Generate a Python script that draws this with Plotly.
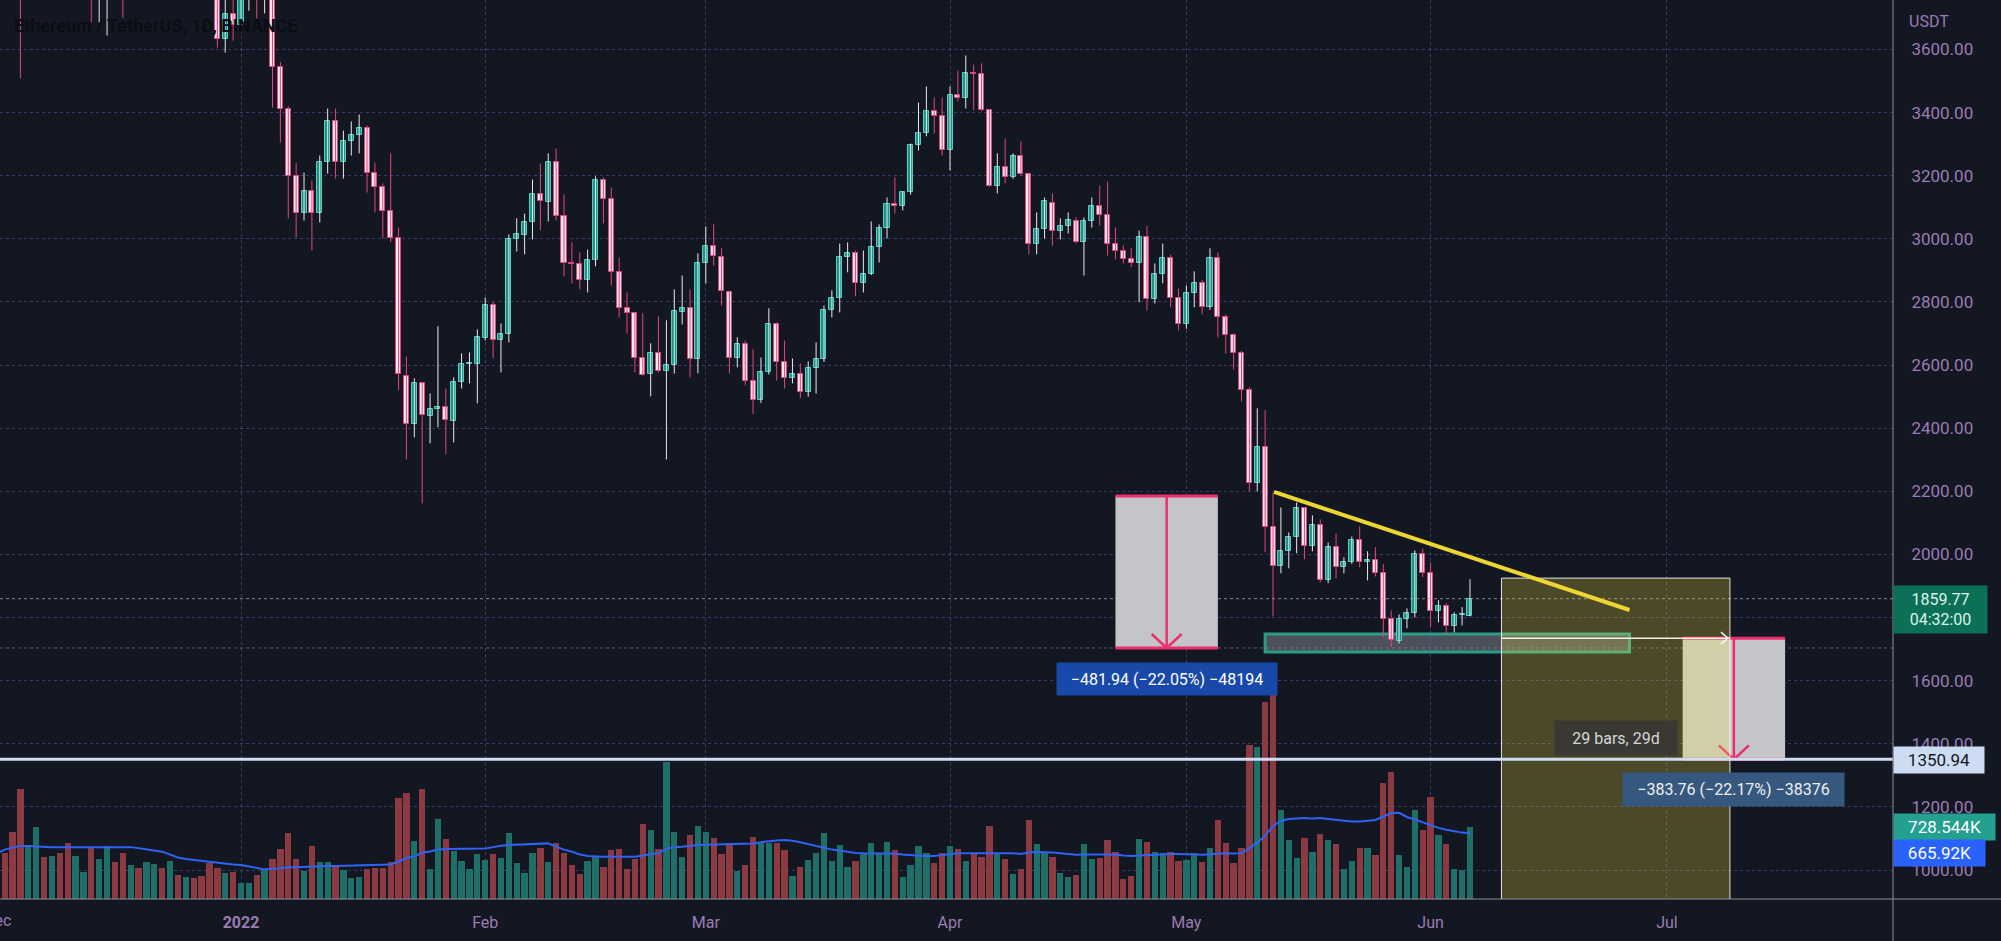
import pandas as pd
import plotly.graph_objects as go

# ---- data: ETH/USDT daily, Binance ----
dates = pd.date_range("2021-12-01", "2022-06-06", freq="D")

open_ = [
    4631, 4586, 4512, 4220, 4119, 4198, 4346, 4308, 4432, 4110, 3890, 4080, 4132, 3780, 3860, 4020,
    3960, 3880, 3960, 3920, 3940, 4020, 3980, 4110, 4045, 4095, 4065, 4035, 3790, 3632, 3711,
    3679, 3770, 3830, 3762, 3790, 3543, 3410, 3200, 3083, 3153, 3083, 3242, 3372, 3242, 3309, 3328,
    3350, 3210, 3163, 3087, 3004, 2567, 2412, 2542, 2438, 2460, 2466, 2422, 2545, 2602, 2602,
    2685, 2789, 2681, 2697, 2998, 3011, 3052, 3141, 3116, 3245, 3071, 2925, 2919, 2871, 2932, 3185,
    3125, 2894, 2780, 2764, 2624, 2571, 2637, 2580, 2599, 2767, 2780, 2618,
    2922, 2976, 2944, 2833, 2624, 2666, 2551, 2491, 2577, 2729, 2609, 2558, 2571, 2514, 2590, 2618,
    2776, 2814, 2941, 2954, 2859, 2890, 2973, 3036, 3112, 3103, 3147, 3296, 3334, 3404, 3388,
    3283, 3457, 3445, 3524, 3521, 3407, 3169, 3229, 3195, 3261, 3204, 2985, 3030, 3115, 3024, 3042,
    3058, 2989, 3058, 3103, 3077, 2985, 2963, 2935, 2922, 3007, 2811, 2890, 2938, 2814,
    2729, 2827, 2859, 2783, 2938, 2751, 2694, 2637, 2520, 2228, 2339, 2086, 1962, 2010, 2054, 2146,
    2026, 2092, 1918, 2023, 1959, 1975, 2045, 1975, 1981, 1940, 1795, 1725, 1795, 1814, 2000,
    1940, 1820, 1836, 1772, 1807, 1806,
]
high = [
    4778, 4635, 4650, 4237, 4235, 4350, 4430, 4440, 4480, 4230, 4100, 4170, 4140, 3880, 4100, 4100,
    3990, 3990, 4040, 3970, 4060, 4070, 4130, 4150, 4125, 4110, 4125, 4045, 3830, 3770, 3810,
    3780, 3860, 3850, 3880, 3845, 3560, 3420, 3240, 3210, 3185, 3264, 3413, 3413, 3343, 3372, 3394,
    3359, 3242, 3176, 3271, 3036, 2627, 2558, 2545, 2510, 2723, 2526, 2561, 2637, 2640, 2713,
    2814, 2800, 2732, 3014, 3065, 3080, 3188, 3239, 3271, 3286, 3141, 2989, 2957, 2966, 3198, 3195,
    3163, 2941, 2830, 2768, 2764, 2669, 2754, 2742, 2840, 2884, 2840, 2954,
    3039, 3046, 2970, 2836, 2688, 2678, 2650, 2624, 2780, 2735, 2678, 2621, 2605, 2612, 2672, 2789,
    2837, 2985, 2989, 2963, 2963, 3055, 3046, 3131, 3195, 3150, 3302, 3432, 3483, 3448, 3448,
    3483, 3533, 3581, 3552, 3556, 3410, 3271, 3318, 3271, 3309, 3210, 3084, 3131, 3144, 3065, 3084,
    3068, 3068, 3131, 3169, 3182, 3036, 2979, 2970, 3026, 3042, 2922, 2985, 2950, 2843,
    2852, 2897, 2870, 2970, 2957, 2760, 2700, 2645, 2530, 2463, 2457, 2194, 2149, 2070, 2165, 2150,
    2124, 2111, 2038, 2067, 1991, 2057, 2089, 2010, 2023, 1969, 1823, 1810, 1829, 2013, 2019,
    1975, 1855, 1845, 1817, 1833, 1921,
]
low = [
    4520, 4426, 4200, 3508, 3900, 3950, 4270, 4200, 4090, 3880, 3870, 4030, 3686, 3686, 3644, 3950,
    3701, 3810, 3900, 3770, 3910, 3960, 3960, 4030, 4030, 4000, 4035, 3760, 3606, 3590, 3628,
    3679, 3723, 3698, 3714, 3416, 3305, 3065, 3004, 3058, 2963, 3052, 3207, 3191, 3191, 3264, 3271,
    3147, 3084, 3001, 2990, 2520, 2301, 2371, 2162, 2352, 2403, 2317, 2355, 2526, 2542, 2479,
    2678, 2621, 2577, 2672, 2960, 2951, 2998, 3027, 3055, 3058, 2881, 2859, 2840, 2830, 2913, 3049,
    2852, 2751, 2700, 2577, 2567, 2501, 2577, 2301, 2573, 2729, 2561, 2574,
    2859, 2915, 2789, 2574, 2593, 2536, 2445, 2480, 2570, 2551, 2526, 2542, 2495, 2500, 2510, 2610,
    2751, 2767, 2894, 2818, 2830, 2885, 2925, 3001, 3080, 3090, 3140, 3280, 3325, 3334, 3264,
    3217, 3435, 3413, 3407, 3405, 3165, 3144, 3176, 3190, 3200, 2951, 2951, 3001, 2979, 2998, 3017,
    2985, 2884, 3036, 3042, 2947, 2935, 2922, 2910, 2799, 2773, 2795, 2859, 2783, 2710,
    2715, 2783, 2761, 2775, 2688, 2637, 2586, 2485, 2200, 2200, 2007, 1804, 1940, 1956, 2004, 1985,
    2010, 1912, 1909, 1924, 1940, 1970, 1959, 1918, 1930, 1737, 1706, 1718, 1766, 1800, 1928,
    1769, 1785, 1747, 1753, 1775, 1804,
]
close = [
    4586, 4512, 4220, 4119, 4198, 4346, 4308, 4432, 4110, 3890, 4080, 4132, 3780, 3860, 4020, 3960,
    3880, 3960, 3920, 3940, 4020, 3980, 4110, 4045, 4095, 4065, 4035, 3790, 3632, 3711, 3679,
    3770, 3830, 3762, 3790, 3543, 3410, 3200, 3083, 3153, 3083, 3242, 3372, 3242, 3309, 3328, 3350,
    3210, 3163, 3087, 3004, 2571, 2412, 2542, 2441, 2460, 2466, 2425, 2545, 2602, 2604, 2688,
    2789, 2681, 2697, 2998, 3014, 3055, 3141, 3119, 3245, 3071, 2925, 2920, 2871, 2932, 3185, 3125,
    2894, 2780, 2764, 2624, 2570, 2637, 2580, 2599, 2770, 2780, 2618, 2922,
    2976, 2947, 2836, 2621, 2666, 2551, 2491, 2577, 2729, 2609, 2558, 2571, 2514, 2590, 2618, 2776,
    2814, 2941, 2954, 2859, 2890, 2973, 3036, 3112, 3103, 3147, 3296, 3334, 3404, 3388, 3283,
    3457, 3445, 3524, 3521, 3407, 3169, 3229, 3195, 3261, 3204, 2985, 3030, 3119, 3024, 3042, 3061,
    2989, 3058, 3103, 3077, 2985, 2963, 2935, 2922, 3007, 2811, 2890, 2938, 2814, 2729,
    2827, 2859, 2783, 2938, 2751, 2694, 2637, 2520, 2228, 2339, 2086, 1962, 2010, 2054, 2146, 2026,
    2092, 1918, 2023, 1959, 1975, 2045, 1975, 1981, 1940, 1795, 1728, 1795, 1814, 2000, 1940,
    1820, 1836, 1772, 1807, 1808, 1859.77,
]
# volume in thousands of ETH
volume_k = [
    460, 462, 681, 1110, 547, 732, 428, 435, 469, 563, 439, 277, 523, 405, 536, 378, 469, 344, 310, 371,
    351, 310, 385, 243, 226, 209, 233, 361, 310, 260, 277, 165, 165, 243, 300, 405, 503, 671, 405, 287,
    536, 371, 371, 344, 294, 209, 219, 300, 310, 310, 378, 1019, 1070, 587, 1110, 300, 807, 604, 489, 385,
    300, 455, 395, 455, 412, 664, 364, 263, 469, 519, 371, 570, 462, 344, 253, 385, 435, 327, 496, 503,
    304, 401, 756, 698, 503, 1390, 674, 428, 647, 739, 681, 614, 455, 563, 287, 344, 631, 563, 563, 563,
    496, 233, 327, 395, 462, 664, 381, 550, 327, 381, 455, 570, 469, 580, 496, 226, 344, 536, 469, 364,
    462, 536, 503, 385, 455, 422, 739, 462,
    400, 250, 300, 800, 560, 480, 430, 260, 220, 240, 560, 400, 420, 600, 480, 200, 230, 610, 580, 480,
    470, 480, 380,
    390, 470, 370, 520, 800, 570, 360, 520, 1559, 1538, 1994, 2217, 900, 600, 420, 620, 480, 660, 600, 560,
    300, 380, 520, 520, 450, 1174, 1285, 450, 320, 900, 700,
    1030, 650, 560, 300, 290, 728.544,
]
volume_ma_k = [
    462, 500, 520, 536, 536, 530, 528, 525, 523, 523, 525, 528, 530, 530, 530, 530, 530, 525, 515, 500,
    490, 479, 450, 420, 405, 395, 385, 378, 370, 360, 350, 344, 330, 310, 300, 305, 315, 321, 321, 325,
    330, 332, 334, 334, 335, 338, 340, 342, 344, 344, 348, 380, 415, 430, 470, 480, 500, 505, 507, 509,
    509, 509, 512, 525, 540, 546, 550, 555, 560, 563, 563, 530, 500, 479, 450, 435, 428, 428, 428, 428,
    428, 428, 440, 455, 465, 510, 525, 530, 540, 546, 550, 553, 556, 558, 560, 562, 563, 575, 585, 592,
    597, 590, 575, 557, 540, 515, 500, 490, 478, 465, 462, 462, 462, 462, 458, 450, 442, 438, 435, 435,
    445, 455, 462, 462, 462, 462, 462, 462, 465, 462, 455, 470, 475, 475, 470, 462, 455, 448, 450, 450,
    452, 455, 450, 440, 435, 440, 445, 448, 452, 455, 455, 452, 450, 448, 452, 460, 462, 460, 462, 515,
    570, 640, 740, 790, 810, 815, 820, 815, 820, 810, 800, 790, 785, 785, 790, 800, 835, 870, 872, 830,
    805, 775, 745, 720, 700, 685, 672, 665.92,
]

month_ticks = ["2022-01-01", "2022-02-01", "2022-03-01", "2022-04-01", "2022-05-01", "2022-06-01", "2022-07-01"]
month_labels = ["<b>2022</b>", "Feb", "Mar", "Apr", "May", "Jun", "Jul"]

last_price = 1859.77
hline_price = 1350.94
support_level = 1703.66
# price-range measurements
m1_start, m1_end, m1_top, m1_bottom = "2022-04-22", "2022-05-05", 2185.60, 1703.66
m1_text = "\u2212481.94 (\u221222.05%) \u221248194"
m2_start, m2_end, m2_top, m2_bottom = "2022-07-03", "2022-07-16", 1734.70, 1350.94
m2_text = "\u2212383.76 (\u221222.17%) \u221238376"
# support zone, trendline, date range
zone_start, zone_end, zone_top, zone_bottom = "2022-05-11", "2022-06-26 06:00", 1748, 1691
trend_start, trend_end = ("2022-05-12 03:00", 2198), ("2022-06-26 06:00", 1824)
range_start, range_end, range_top, range_bottom = "2022-06-10", "2022-07-09", 1925, 800

# ---- scale of the reference picture ----
W, H = 2001, 941
PLOT_W, PLOT_H = 1893, 899
PX_PER_DAY = 7.878
PRICE_PER_PX = 3.1686
price_lo = 3600 - (PLOT_H - 49.5) * PRICE_PER_PX
price_hi = 3600 + 49.5 * PRICE_PER_PX
vol_hi = PLOT_H / 0.0988 * 1000
x_lo = pd.Timestamp("2022-01-01") - pd.Timedelta(days=241 / PX_PER_DAY)
x_hi = x_lo + pd.Timedelta(days=PLOT_W / PX_PER_DAY)

BG = "#131722"
TXT = "#9b7bb4"
UP_FILL, UP_LINE, UP_WICK = "#1f9184", "#4fd0c2", "#e8e8ee"
DN_FILL, DN_LINE = "#f6e6ee", "#e2457e"
PINK = "#ec2f6c"

def day(d, off=0.0):
    return pd.Timestamp(d) + pd.Timedelta(days=off)

df = pd.DataFrame({"o": open_, "h": high, "l": low, "c": close,
                   "v": [v * 1000 for v in volume_k], "ma": [v * 1000 for v in volume_ma_k]}, index=dates)
up = df["c"] >= df["o"]

fig = go.Figure()

# volume (main y axis, hidden) -- drawn below the candles
fig.add_trace(go.Bar(x=df.index, y=df["v"], width=0.8 * 86400000,
                     marker=dict(color=["#1f6e67" if u else "#8c3a41" for u in up], line=dict(width=0)),
                     yaxis="y", hoverinfo="skip"))
fig.add_trace(go.Scatter(x=df.index, y=df["ma"], mode="lines", line=dict(color="#2f62f5", width=2),
                         yaxis="y", hoverinfo="skip"))

# wicks
for mask, col in [(up, UP_WICK), (~up, DN_LINE)]:
    xs, ys = [], []
    for d, row in df[mask].iterrows():
        xs += [d, d, None]
        ys += [row["l"], row["h"], None]
    fig.add_trace(go.Scatter(x=xs, y=ys, mode="lines", line=dict(color=col, width=1),
                             yaxis="y2", hoverinfo="skip"))

# bodies
body_lo = df[["o", "c"]].min(axis=1)
body_h = (df["c"] - df["o"]).abs().clip(lower=3.5)
fig.add_trace(go.Bar(x=df.index, y=body_h, base=body_lo, width=0.64 * 86400000, yaxis="y2",
                     marker=dict(color=[UP_FILL if u else DN_FILL for u in up],
                                 line=dict(color=[UP_LINE if u else DN_LINE for u in up], width=1)),
                     hoverinfo="skip"))

shapes = []
def add_line(x0, y0, x1, y1, color, width, dash="solid", xref="x", yref="y2", layer="above"):
    shapes.append(dict(type="line", x0=x0, y0=y0, x1=x1, y1=y1, xref=xref, yref=yref, layer=layer,
                       line=dict(color=color, width=width, dash=dash)))

# support zone (under the candles)
shapes.append(dict(type="rect", xref="x", yref="y2", x0=zone_start, x1=zone_end, y0=zone_bottom, y1=zone_top,
                   fillcolor="rgba(125,128,138,0.55)", line=dict(color="#2a9d88", width=3), layer="below"))

# horizontal lines
add_line(0, support_level, 1, support_level, "rgba(150,150,175,0.55)", 1, "dot", xref="paper")
add_line(0, last_price, 1, last_price, "rgba(160,163,172,0.8)", 1, "dot", xref="paper")

# measurement boxes
for s, e, top, bot in [(m1_start, m1_end, m1_top, m1_bottom), (m2_start, m2_end, m2_top, m2_bottom)]:
    shapes.append(dict(type="rect", xref="x", yref="y2", x0=s, x1=e, y0=bot, y1=top,
                       fillcolor="rgba(205,207,211,0.95)", line=dict(width=0), layer="above"))
    add_line(s, top, e, top, PINK, 3)
    add_line(s, bot, e, bot, PINK, 3)
    mid = day(s, 6.5)
    add_line(mid, top, mid, bot, PINK, 2.5)
    add_line(day(mid, -15 / PX_PER_DAY), bot + 14 * PRICE_PER_PX, mid, bot, PINK, 2.5)
    add_line(day(mid, 15 / PX_PER_DAY), bot + 14 * PRICE_PER_PX, mid, bot, PINK, 2.5)

# date range box (drawn over the second measurement)
shapes.append(dict(type="rect", xref="x", yref="y2", x0=range_start, x1=range_end, y0=range_bottom, y1=range_top,
                   fillcolor="rgba(255,235,59,0.24)", line=dict(color="rgba(255,255,255,0.85)", width=1),
                   layer="above"))
add_line(range_start, m2_top, range_end, m2_top, "rgba(255,255,255,0.9)", 1.5)
add_line(day(range_end, -9 / PX_PER_DAY), m2_top + 6 * PRICE_PER_PX, day(range_end, -2 / PX_PER_DAY), m2_top,
         "rgba(255,255,255,0.9)", 1.5)
add_line(day(range_end, -9 / PX_PER_DAY), m2_top - 6 * PRICE_PER_PX, day(range_end, -2 / PX_PER_DAY), m2_top,
         "rgba(255,255,255,0.9)", 1.5)

# trendline
add_line(trend_start[0], trend_start[1], trend_end[0], trend_end[1], "#ecd633", 4)

# horizontal ray at 1350.94
add_line(0, hline_price, 1, hline_price, "#cfdcf4", 3, xref="paper")

# axis frame lines
add_line(0, 0, W / PLOT_W, 0, "#8e919b", 1, xref="paper", yref="paper")
add_line(1, -(H - PLOT_H) / PLOT_H, 1, 1, "#8e919b", 1, xref="paper", yref="paper")

annotations = [
    dict(text="<b>Ethereum / TetherUS, 1D, BINANCE</b>", xref="paper", yref="paper", x=12 / PLOT_W,
         y=1 - 25 / PLOT_H, xanchor="left", yanchor="middle", showarrow=False,
         font=dict(family="Roboto", size=18, color="#0b0d13")),
    dict(text="USDT", xref="paper", yref="paper", x=1 + 14 / PLOT_W, y=1 - 21 / PLOT_H,
         xanchor="left", yanchor="middle", showarrow=False, font=dict(family="Roboto", size=16, color=TXT)),
    dict(text="Dec", xref="paper", yref="paper", x=-3 / PLOT_W, y=-21 / PLOT_H, xanchor="center",
         yanchor="middle", showarrow=False, font=dict(family="Roboto", size=16, color=TXT)),
    dict(text=m1_text, xref="x", yref="y2", x=day(m1_start, 6.5), y=m1_bottom - 31 * PRICE_PER_PX,
         showarrow=False, bgcolor="#1849a9", width=214, height=26, borderpad=3,
         font=dict(family="Roboto", size=16, color="#ffffff")),
    dict(text=m2_text, xref="x", yref="y2", x=day(m2_start, 6.5), y=m2_bottom - 30 * PRICE_PER_PX,
         showarrow=False, bgcolor="#36587f", width=215, height=27, borderpad=3,
         font=dict(family="Roboto", size=16, color="#f0f0f0")),
    dict(text="29 bars, 29d", xref="x", yref="y2", x=day(range_start, 14.5),
         y=hline_price + 21 * PRICE_PER_PX, showarrow=False, bgcolor="rgba(55,55,52,0.92)",
         width=116, height=28, borderpad=3, font=dict(family="Roboto", size=16, color="#d6d6d6")),
    # axis value labels
    dict(text="1859.77<br>04:32:00", xref="paper", yref="y2", x=1, y=last_price - 11 * PRICE_PER_PX,
         xanchor="left", yanchor="middle", showarrow=False, bgcolor="#0b7056", width=87, height=41,
         borderpad=3, align="center", font=dict(family="Roboto", size=16, color="#dff3ee")),
    dict(text="1350.94", xref="paper", yref="y2", x=1, y=hline_price - 1 * PRICE_PER_PX,
         xanchor="left", yanchor="middle", showarrow=False, bgcolor="#cddcf3", width=84, height=20,
         borderpad=3, font=dict(family="Roboto", size=17, color="#131722")),
    dict(text="728.544K", xref="paper", yref="y", x=1, y=728544, xanchor="left", yanchor="middle",
         showarrow=False, bgcolor="#23a08f", width=95, height=20, borderpad=3,
         font=dict(family="Roboto", size=17, color="#ffffff")),
    dict(text="665.92K", xref="paper", yref="y", x=1, y=(PLOT_H - 853) / 0.0988 * 1000, xanchor="left",
         yanchor="middle", showarrow=False, bgcolor="#2962ff", width=85, height=20, borderpad=3,
         font=dict(family="Roboto", size=17, color="#ffffff")),
]

fig.update_layout(
    width=W, height=H, autosize=False,
    margin=dict(l=0, r=W - PLOT_W, t=0, b=H - PLOT_H),
    paper_bgcolor=BG, plot_bgcolor=BG,
    showlegend=False, barmode="overlay", bargap=0,
    font=dict(family="Roboto", size=16, color=TXT),
    shapes=shapes, annotations=annotations,
    xaxis=dict(type="date", range=[x_lo, x_hi], tickvals=month_ticks, ticktext=month_labels,
               showgrid=True, gridcolor="rgba(92,88,170,0.55)", griddash="dot", gridwidth=1,
               ticks="outside", ticklen=9, tickcolor=BG, zeroline=False, showline=False,
               tickfont=dict(family="Roboto", size=16, color=TXT), rangeslider=dict(visible=False)),
    yaxis=dict(range=[0, vol_hi], visible=False, showgrid=False, zeroline=False, fixedrange=True),
    yaxis2=dict(overlaying="y", side="right", range=[price_lo, price_hi], tick0=1000, dtick=200,
                tickformat=".2f", showgrid=True, gridcolor="rgba(92,88,170,0.55)", griddash="dot",
                gridwidth=1, ticks="outside", ticklen=14, tickcolor=BG, zeroline=False, showline=False,
                tickfont=dict(family="Roboto", size=17, color=TXT)),
)

fig.write_html("out.html", config={"displayModeBar": False},
               post_script="document.body.style.margin='0px';")
